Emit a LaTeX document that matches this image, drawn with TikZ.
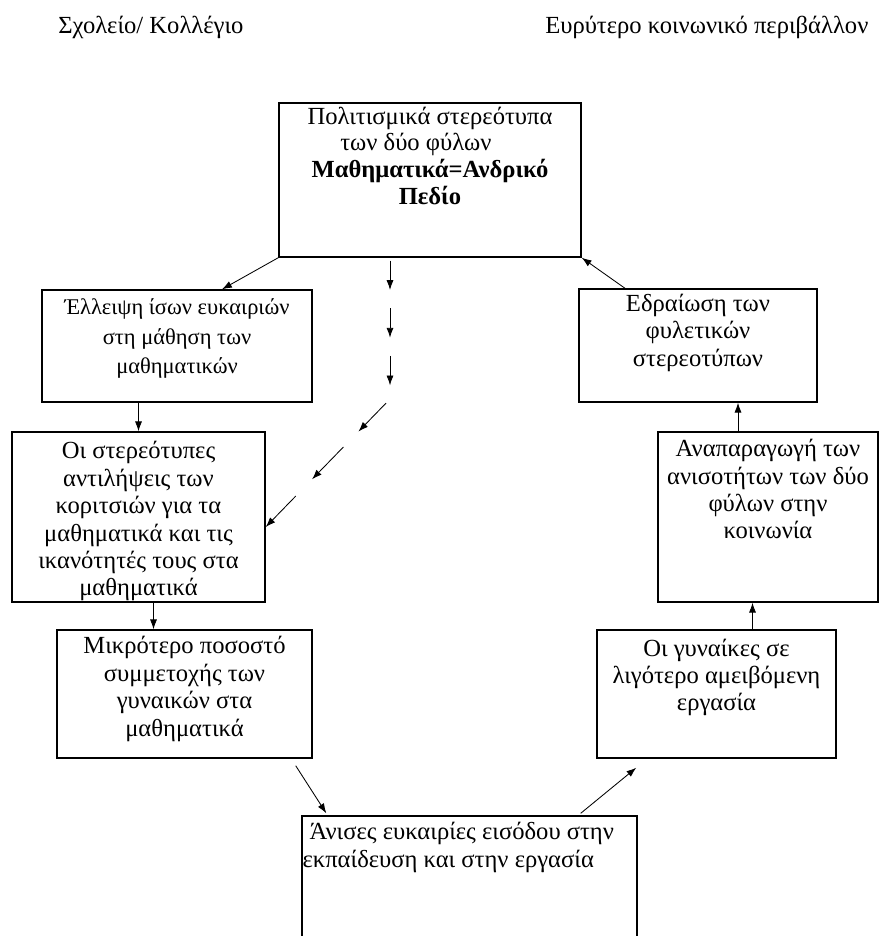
\documentclass[tikz,border=0pt]{standalone}
\usepackage{fontspec}
\setmainfont{Liberation Serif}
\usetikzlibrary{arrows.meta,positioning,fit,calc}

\begin{document}
\begin{tikzpicture}[x=0.25mm, y=-0.25mm, >={Latex[length=7pt,width=5pt]},
  box/.style={draw, line width=1pt, inner sep=0pt},
  txt/.style={align=center, inner sep=0pt, font=\fontsize{17.5}{19.5}\selectfont},
  arr/.style={->, line width=0.6pt}]
  \useasboundingbox (0,0) rectangle (880,936);
  \clip (0,0) rectangle (880,936);
  \node[txt, anchor=base west] (school) at (58,34) {Σχολείο/ Κολλέγιο};
  \node[txt, anchor=base west] (society) at (545,34) {Ευρύτερο κοινωνικό περιβάλλον};
  \node[box, fit={(279,103) (581,257)}] (polit) {};
  \node[box, fit={(42,290) (312,402)}] (ellipsi) {};
  \node[box, fit={(12,432) (265,602)}] (antilipseis) {};
  \node[box, fit={(57,630) (312,758)}] (mikrotero) {};
  \node[box, fit={(302,816) (637,960)}] (anises) {};
  \node[box, fit={(597,630) (836,758)}] (gynaikes) {};
  \node[box, fit={(658,432) (878,602)}] (anaparagogi) {};
  \node[box, fit={(579,289) (817,402)}] (edraiosi) {};
  \node[txt, font=\fontsize{17.5}{19}\selectfont, below=3pt of polit.north] (polit-t) {Πολιτισμικά στερεότυπα\\\hspace*{-20pt}των δύο φύλων\\\textbf{Μαθηματικά=Ανδρικό}\\\textbf{Πεδίο}};
  \node[txt, font=\fontsize{16}{21}\selectfont, below=6.5pt of ellipsi.north] (ellipsi-t) {Έλλειψη ίσων ευκαιριών\\στη μάθηση των\\μαθηματικών};
  \node[txt, below=7pt of antilipseis.north] (antilipseis-t) {Οι στερεότυπες\\αντιλήψεις των\\κοριτσιών για τα\\μαθηματικά και τις\\ικανότητές τους στα\\μαθηματικά};
  \node[txt, below=5pt of mikrotero.north] (mikrotero-t) {Μικρότερο ποσοστό\\συμμετοχής των\\γυναικών στα\\μαθηματικά};
  \node[txt, align=left, anchor=north west] (anises-t) at ([shift={(1,7)}]anises.north west) {\hspace*{5pt}Άνισες ευκαιρίες εισόδου στην\\εκπαίδευση και στην εργασία};
  \node[txt, below=6.5pt of gynaikes.north] (gynaikes-t) {Οι γυναίκες σε\\λιγότερο αμειβόμενη\\εργασία};
  \node[txt, below=5.5pt of anaparagogi.north] (anaparagogi-t) {Αναπαραγωγή των\\ανισοτήτων των δύο\\φύλων στην\\κοινωνία};
  \node[txt, below=4pt of edraiosi.north] (edraiosi-t) {Εδραίωση των\\φυλετικών\\στερεοτύπων};
  \draw[arr] (polit.south west) -- ([shift={(45,0)}]ellipsi.north);
  \draw[arr] (antilipseis.north |- ellipsi.south) -- (antilipseis.north);
  \draw[arr] ([shift={(15,0)}]antilipseis.south) -- ([shift={(-31,0)}]mikrotero.north);
  \draw[arr] ([shift={(-17,7)}]mikrotero.south east) -- ([shift={(25,-2)}]anises.north west);
  \draw[arr] ([shift={(-57,-2)}]anises.north east) -- ([shift={(40,9)}]gynaikes.south west);
  \coordinate (g1) at ([shift={(36,0)}]gynaikes.north);
  \draw[arr] (g1) -- (g1 |- anaparagogi.south);
  \coordinate (a1) at ([shift={(-30,0)}]anaparagogi.north);
  \draw[arr] (a1) -- (a1 |- edraiosi.south);
  \draw[arr] ([shift={(-73,0)}]edraiosi.north) -- (polit.south east);
  \coordinate (p0) at ([shift={(-40,0)}]polit.south);
  \coordinate (k) at (391,398);
  \coordinate (p2) at ([shift={(0,10)}]antilipseis.east);
  \foreach \s/\e in {0.02/0.23, 0.36/0.57, 0.70/0.91}
    \draw[arr] ($(p0)!\s!(p0 |- k)$) -- ($(p0)!\e!(p0 |- k)$);
  \foreach \s/\e in {0.04/0.26, 0.38/0.63, 0.76/1}
    \draw[arr] ($(k)!\s!(p2)$) -- ($(k)!\e!(p2)$);
\end{tikzpicture}
\end{document}
